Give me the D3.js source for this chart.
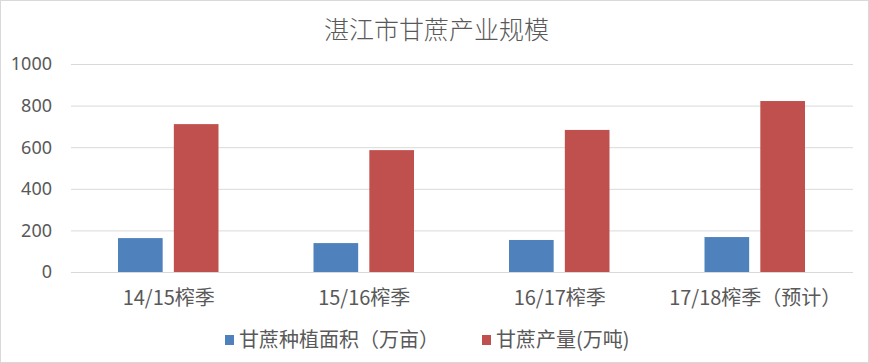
<!DOCTYPE html>
<html>
<head>
<meta charset="utf-8">
<script src="https://cdn.jsdelivr.net/npm/d3@7"></script>
<style>
  body { margin: 0; background: #fff; }
  svg { display: block; font-family: "Noto Sans CJK SC", "Noto Sans", sans-serif; }
  .grid line { stroke: #d9d9d9; }
  .grid path { display: none; }
</style>
</head>
<body>
<div id="chart"></div>
<script>
const title = "湛江市甘蔗产业规模";
const seasons = ["14/15榨季", "15/16榨季", "16/17榨季", "17/18榨季（预计）"];
const seriesNames = ["甘蔗种植面积（万亩）", "甘蔗产量(万吨)"];
const area = [163, 139, 154, 168];
const output = [711, 586, 683, 822];
const yTicks = [0, 200, 400, 600, 800, 1000];
const colors = ["#4f81bd", "#c0504d"];

const W = 869, H = 363;
const margin = {top: 64, right: 16, bottom: 91, left: 71};
const width = W - margin.left - margin.right,
  height = H - margin.top - margin.bottom;

const svg = d3.select("#chart").append("svg")
  .attr("width", W).attr("height", H);

svg.append("rect")
  .attr("x", 0.5).attr("y", 0.5)
  .attr("width", W - 1).attr("height", H - 1)
  .attr("fill", "#fff").attr("stroke", "#d9d9d9");

svg.append("text")
  .attr("x", W / 2 + 2).attr("y", 39)
  .attr("text-anchor", "middle")
  .attr("fill", "#595959")
  .attr("font-size", 25)
  .attr("font-weight", 300)
  .text(title);

const g = svg.append("g")
  .attr("transform", `translate(${margin.left}, ${margin.top})`);

const x0 = d3.scaleBand().domain(seasons).range([0, width]);
// two bars per season, ~45px wide with ~11px gap
const x1 = d3.scaleBand().domain([0, 1]).range([47, x0.bandwidth() - 48]).paddingInner(0.2);
const y = d3.scaleLinear().domain([0, 1000]).range([height, 0]);

g.append("g")
  .attr("class", "grid")
  .call(d3.axisLeft(y).tickValues(yTicks).tickSize(-width).tickFormat(""));

// y labels
g.append("g")
  .selectAll("text")
  .data(yTicks)
  .enter()
  .append("text")
    .attr("x", -19)
    .attr("y", d => y(d))
    .attr("dy", "0.36em")
    .attr("text-anchor", "end")
    .attr("fill", "#595959")
    .attr("font-family", "Noto Sans, sans-serif")
    .attr("font-size", 18)
    .text(d => d);

const rows = seasons.map((s, i) => ({season: s, vals: [area[i], output[i]]}));

const groups = g.selectAll(".grp")
  .data(rows)
  .enter()
  .append("g")
  .attr("transform", d => `translate(${x0(d.season)}, 0)`);

groups.selectAll("rect")
  .data(d => d.vals.map((v, k) => ({k, v})))
  .enter()
  .append("rect")
    .attr("x", d => x1(d.k))
    .attr("width", x1.bandwidth())
    .attr("y", d => y(d.v))
    .attr("height", d => height - y(d.v))
    .attr("fill", d => colors[d.k]);

// x labels
g.append("g")
  .selectAll("text")
  .data(seasons)
  .enter()
  .append("text")
    .attr("x", d => x0(d) + x0.bandwidth() / 2)
    .attr("y", height + 33)
    .attr("text-anchor", "middle")
    .attr("fill", "#595959")
    .attr("font-size", 20)
    .text(d => d);

// legend
const legendX = [225, 482];
const legend = svg.append("g");
seriesNames.forEach((name, i) => {
  legend.append("rect")
    .attr("x", legendX[i]).attr("y", 335)
    .attr("width", 9).attr("height", 10)
    .attr("fill", colors[i]);
  legend.append("text")
    .attr("x", legendX[i] + 14).attr("y", 340)
    .attr("dy", "0.36em")
    .attr("fill", "#595959")
    .attr("font-size", 20)
    .text(name);
});
</script>
</body>
</html>
